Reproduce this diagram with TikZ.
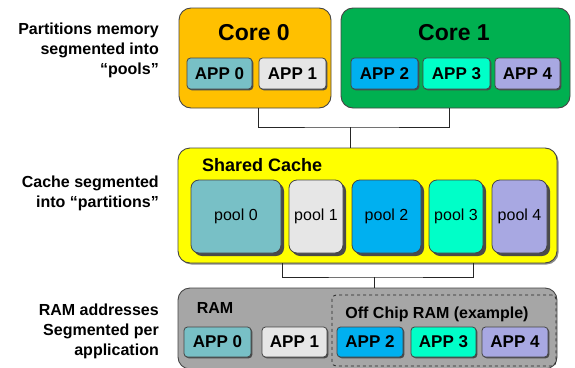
\documentclass[tikz,border=0pt]{standalone}
\usepackage{fontspec}
\setmainfont{Liberation Sans}
\usetikzlibrary{calc,shadows}

\definecolor{coreA}{HTML}{FFC000}
\definecolor{coreB}{HTML}{00B050}
\definecolor{cacheY}{HTML}{FFFF00}
\definecolor{ramG}{HTML}{A6A6A6}
\definecolor{appA}{HTML}{78C0C6}
\definecolor{appB}{HTML}{E6E6E6}
\definecolor{appC}{HTML}{00B0F0}
\definecolor{appD}{HTML}{00FFC8}
\definecolor{appE}{HTML}{A8A8E2}
\definecolor{edge}{HTML}{454545}
\definecolor{shade}{HTML}{4A4A4A}

\tikzset{
  bigbox/.style={draw=edge, line width=0.9pt, rounded corners=12pt, inner sep=0pt},
  appbox/.style={draw=edge, line width=0.8pt, rounded corners=3.5pt, inner sep=0pt,
    minimum height=#1, font=\fontsize{17}{17}\selectfont\bfseries,
    general shadow={fill=shade, shadow xshift=1.3pt, shadow yshift=-1.3pt}},
  poolbox/.style={draw=edge, line width=0.8pt, rounded corners=8pt, inner sep=0pt,
    minimum height=73pt, font=\fontsize{16}{16}\selectfont,
    general shadow={fill=shade, shadow xshift=3pt, shadow yshift=-3pt}},
  sidenote/.style={anchor=east, align=right, inner sep=0pt,
    font=\fontsize{16}{20}\selectfont\bfseries},
  wire/.style={draw=black!85, line width=0.8pt},
}

\begin{document}
\begin{tikzpicture}[x=1pt, y=-1pt]
\useasboundingbox (0,0) rectangle (575,367);

% side notes
\node[sidenote] (n1) at (159,50) {Partitions memory\\segmented into\\“pools”};
\node[sidenote] (n2) at (159,193) {Cache segmented\\into “partitions”};
\node[sidenote] (n3) at (159,331) {RAM addresses\\Segmented per\\application};

% cores
\node[bigbox, fill=coreA, minimum width=152pt, minimum height=100pt] (core0) at (255,58) {};
\node[bigbox, fill=coreB, minimum width=229pt, minimum height=100pt] (core1) at (455.5,58) {};
\node[font=\fontsize{23}{23}\selectfont\bfseries, inner sep=0pt] (core0t) at (254,33) {Core 0};
\node[font=\fontsize{23}{23}\selectfont\bfseries, inner sep=0pt] (core1t) at (454,33) {Core 1};

\node[appbox=31pt, fill=appA, minimum width=65pt] (ca0) at (219.5,73.5) {APP 0};
\node[appbox=31pt, fill=appB, minimum width=67pt] (ca1) at (292.5,73.5) {APP 1};
\node[appbox=31pt, fill=appC, minimum width=67pt] (ca2) at (384.5,73.5) {APP 2};
\node[appbox=31pt, fill=appD, minimum width=67pt] (ca3) at (456.5,73.5) {APP 3};
\node[appbox=31pt, fill=appE, minimum width=65pt] (ca4) at (527.5,73.5) {APP 4};

% shared cache
\node[bigbox, fill=cacheY, minimum width=379pt, minimum height=115pt,
  general shadow={fill=black!45, shadow xshift=1.5pt, shadow yshift=-1.5pt}] (cache) at (367.5,205.5) {};
\node[anchor=west, inner sep=0pt, font=\fontsize{18}{18}\selectfont\bfseries] (cachet) at (202,165) {Shared Cache};

\node[poolbox, fill=appA, minimum width=90pt] (p0) at (236,216.5) {pool 0};
\node[poolbox, fill=appB, minimum width=54pt] (p1) at (316,216.5) {pool 1};
\node[poolbox, fill=appC, minimum width=69pt] (p2) at (386.5,216.5) {pool 2};
\node[poolbox, fill=appD, minimum width=54pt] (p3) at (456,216.5) {pool 3};
\node[poolbox, fill=appE, minimum width=55pt] (p4) at (519.5,216.5) {pool 4};

% RAM
\node[bigbox, fill=ramG, minimum width=379pt, minimum height=81pt] (ram) at (367.5,328.5) {};
\node[font=\fontsize{16}{16}\selectfont\bfseries, inner sep=0pt] (ramt) at (215,308) {RAM};
\node[draw=black!85, dashed, line width=0.8pt, rounded corners=4pt, inner sep=0pt,
  minimum width=224pt, minimum height=71pt] (off) at (444,330.5) {};
\node[font=\fontsize{16}{16}\selectfont\bfseries, inner sep=0pt] (offt) at (437,314) {Off Chip RAM (example)};

\node[appbox=30pt, fill=appA, minimum width=67pt] (ra0) at (217.5,342) {APP 0};
\node[appbox=30pt, fill=appB, minimum width=65pt] (ra1) at (294.5,342) {APP 1};
\node[appbox=30pt, fill=appC, minimum width=66pt] (ra2) at (370,342) {APP 2};
\node[appbox=30pt, fill=appD, minimum width=65pt] (ra3) at (443.5,342) {APP 3};
\node[appbox=30pt, fill=appE, minimum width=66pt] (ra4) at (515,342) {APP 4};

% connectors
\coordinate (jt) at (350,127);
\draw[wire] ([xshift=3pt]core0.south) |- (jt) -| ([xshift=-6.5pt]core1.south);
\draw[wire] (jt) -- (jt |- cache.north);
\coordinate (jb) at (374,277);
\draw[wire] ([xshift=-85.5pt]cache.south) |- (jb) -| ([xshift=105.5pt]cache.south);
\draw[wire] (jb) -- (jb |- ram.north);
\end{tikzpicture}
\end{document}
